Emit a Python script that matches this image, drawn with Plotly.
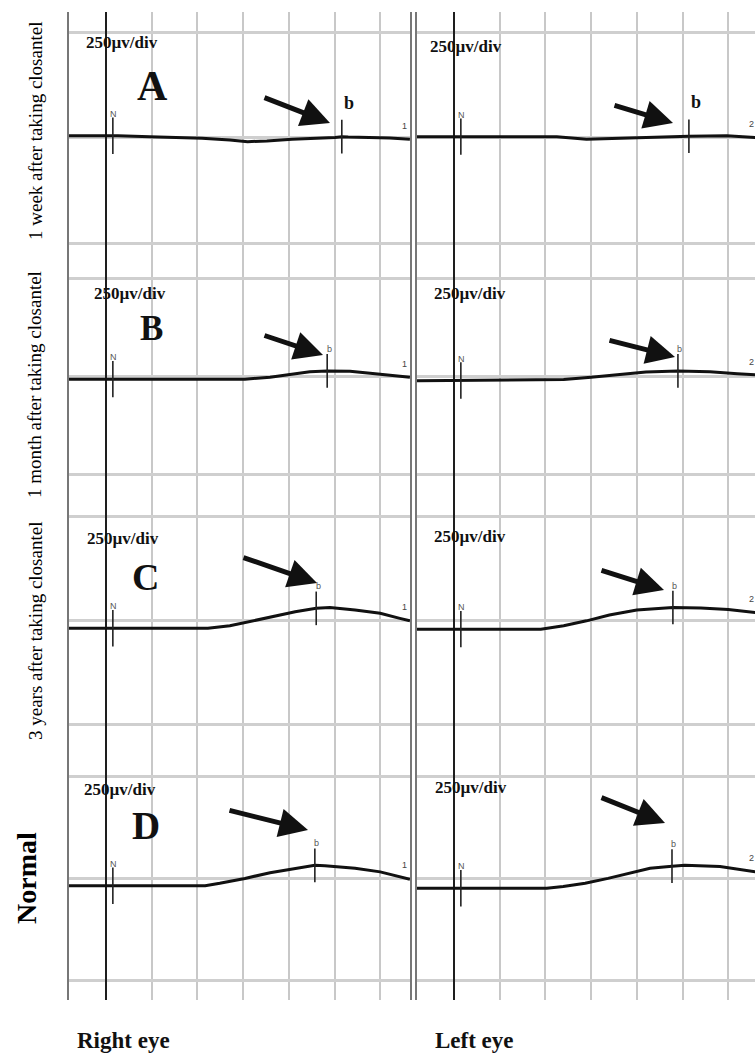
import numpy as np
import plotly.graph_objects as go

# ---------------- DATA (time in divisions, amplitude in microvolts) ----------------
row_labels = ["1 week after taking closantel", "1 month after taking closantel",
              "3 years after taking closantel", "Normal"]
panel_letters = ["A", "B", "C", "D"]
column_labels = ["Right eye", "Left eye"]
scale_label = "250\u00b5v/div"

# Right eye (left column)
time_A_right = [-0.81, 0.26, 0.96, 2.1, 2.71, 3.1, 3.52, 4.07, 5.01, 5.16, 5.3, 6.21, 6.65]
amp_A_right = [4, 4, 2, -2, -6, -10, -8, -4, 0, 2, 1, -1, -4]
time_B_right = [-0.81, 3.04, 3.59, 4.03, 4.46, 4.84, 5.34, 5.78, 6.32, 6.65]
amp_B_right = [-8, -8, -3, 5, 11, 13, 12, 7, 0, -3]
time_C_right = [-0.81, 2.23, 2.71, 3.15, 3.7, 4.14, 4.6, 4.9, 5.45, 6.0, 6.43, 6.65]
amp_C_right = [-20, -20, -14, -4, 10, 20, 28, 30, 24, 16, 4, -2]
time_D_right = [-0.81, 2.17, 2.49, 3.04, 3.59, 4.14, 4.57, 4.79, 5.45, 6.0, 6.43, 6.65]
amp_D_right = [-19, -19, -13, -1, 13, 24, 31, 30, 24, 15, 3, -3]

# Left eye (right column)
time_A_left = [-0.81, 2.25, 2.9, 3.5, 4.4, 5.14, 5.97, 6.3, 6.59]
amp_A_left = [2, 2, -4, -2, 0, 3, 4, 1, 0]
time_B_left = [-0.81, 1.0, 2.4, 3.0, 3.6, 4.2, 4.9, 5.6, 6.2, 6.59]
amp_B_left = [-12, -11, -9, -3, 4, 10, 13, 11, 6, 3]
time_C_left = [-0.81, 1.9, 2.4, 2.9, 3.4, 4.0, 4.79, 5.4, 6.0, 6.59]
amp_C_left = [-22, -22, -14, -2, 12, 24, 30, 29, 25, 18]
time_D_left = [-0.81, 2.03, 2.39, 2.87, 3.37, 3.85, 4.29, 4.77, 5.05, 5.82, 6.26, 6.59]
amp_D_left = [-25, -25, -21, -13, -1, 13, 24, 29, 31, 28, 21, 15]

n_time = 0.15
b_time_right_eye = [5.16, 4.84, 4.6, 4.57]
b_time_left_eye = [5.14, 4.9, 4.79, 4.77]
end_time_right_eye = 6.54
end_time_left_eye = 6.52
end_marks = ["1", "2"]

times = [[time_A_right, time_A_left], [time_B_right, time_B_left],
         [time_C_right, time_C_left], [time_D_right, time_D_left]]
amps = [[amp_A_right, amp_A_left], [amp_B_right, amp_B_left],
        [amp_C_right, amp_C_left], [amp_D_right, amp_D_left]]
b_times = [b_time_right_eye, b_time_left_eye]
end_times = [end_time_right_eye, end_time_left_eye]

# ---------------- LAYOUT CONSTANTS (pixels) ----------------
W, H = 755, 1057
def fx(px):
    return px / W
def fy(py):
    return 1 - py / H

ROW_BOUNDS = [(12, 260), (260, 495), (495, 750), (750, 1000)]
ROW_GRID = [(32, 243), (278, 474), (516, 724), (776, 980)]
COL_BOUNDS = [(69, 410), (417, 755)]
COL_ZERO = [106, 454]
PX_PER_DIV = 45.7
UV_PER_DIV = 250

SERIF = "Liberation Serif, Times New Roman, serif"
SMALL = "Liberation Sans, Arial, sans-serif"

fig = go.Figure()
layout = dict(width=W, height=H, margin=dict(l=0, r=0, t=0, b=0),
              paper_bgcolor="white", plot_bgcolor="white", showlegend=False)
annotations = []

for r in range(4):
    rt, rb = ROW_BOUNDS[r]
    gt, gb = ROW_GRID[r]
    s = (gb - gt) / (2 * UV_PER_DIV)
    y_top = UV_PER_DIV + (gt - rt) / s
    y_bot = -UV_PER_DIV - (rb - gb) / s
    for c in range(2):
        k = r * 2 + c + 1
        c0, c1 = COL_BOUNDS[c]
        z = COL_ZERO[c]
        xr = [(c0 - z) / PX_PER_DIV, (c1 - z) / PX_PER_DIV]
        xn, yn = ("x" if k == 1 else f"x{k}"), ("y" if k == 1 else f"y{k}")
        layout["xaxis" if k == 1 else f"xaxis{k}"] = dict(
            domain=[fx(c0), min(fx(c1), 1.0)], range=xr, anchor=yn,
            tick0=0, dtick=1, showgrid=True, gridcolor="#c8c8c8", gridwidth=1.8,
            zeroline=True, zerolinecolor="#1e1e1e", zerolinewidth=1.8,
            showticklabels=False, ticks="", showline=False, fixedrange=True)
        layout["yaxis" if k == 1 else f"yaxis{k}"] = dict(
            domain=[fy(rb), fy(rt)], range=[y_bot, y_top], anchor=xn,
            tick0=0, dtick=UV_PER_DIV, showgrid=True, gridcolor="#cfcfcf", gridwidth=2.8,
            zeroline=False, showticklabels=False, ticks="",
            showline=True, linecolor="#777777", linewidth=1.8,
            mirror=(c == 0), fixedrange=True)

        t = times[r][c]
        a = amps[r][c]
        fig.add_trace(go.Scatter(x=t, y=a, xaxis=xn, yaxis=yn, mode="lines",
                                 line=dict(color="#111111", width=3),
                                 hoverinfo="skip"))
        bt = b_times[c][r]
        n_val = float(np.interp(n_time, t, a))
        b_val = float(np.interp(bt, t, a))
        fig.add_trace(go.Scatter(x=[n_time], y=[n_val], xaxis=xn, yaxis=yn, mode="markers",
                                 marker=dict(symbol="line-ns", size=26,
                                             line=dict(color="#222222", width=1.6)),
                                 hoverinfo="skip"))
        fig.add_trace(go.Scatter(x=[bt], y=[b_val], xaxis=xn, yaxis=yn, mode="markers",
                                 marker=dict(symbol="line-ns", size=24,
                                             line=dict(color="#222222", width=1.6)),
                                 hoverinfo="skip"))
        annotations.append(dict(x=n_time, y=n_val, xref=xn, yref=yn, text="N",
                                showarrow=False, yshift=22, xshift=1,
                                font=dict(family=SMALL, size=9, color="#555555")))
        if r == 0:
            annotations.append(dict(x=bt, y=b_val, xref=xn, yref=yn, text="<b>b</b>",
                                    showarrow=False, yshift=34, xshift=7,
                                    font=dict(family=SERIF, size=18, color="#111111")))
        else:
            annotations.append(dict(x=bt, y=b_val, xref=xn, yref=yn, text="b",
                                    showarrow=False, yshift=22, xshift=2,
                                    font=dict(family=SMALL, size=9, color="#555555")))
        et = end_times[c]
        e_val = float(np.interp(et, t, a))
        annotations.append(dict(x=et, y=e_val, xref=xn, yref=yn, text=end_marks[c],
                                showarrow=False, yshift=13,
                                font=dict(family=SMALL, size=9, color="#444444")))

# "250µv/div" labels (pixel centres)
SCALE_POS = [[(122, 43), (466, 47)], [(130, 293), (470, 293)],
             [(123, 538), (470, 536)], [(120, 789), (471, 787)]]
for r in range(4):
    for c in range(2):
        x, y = SCALE_POS[r][c]
        annotations.append(dict(x=fx(x), y=fy(y), xref="paper", yref="paper",
                                text="<b>" + scale_label + "</b>", showarrow=False,
                                xanchor="center", yanchor="middle",
                                font=dict(family=SERIF, size=17, color="#111111")))

# Panel letters
LETTER_POS = [(152, 86, 42), (151, 328, 35), (145, 577, 38), (146, 825, 39)]
for (x, y, sz), L in zip(LETTER_POS, panel_letters):
    annotations.append(dict(x=fx(x), y=fy(y), xref="paper", yref="paper",
                            text="<b>" + L + "</b>", showarrow=False,
                            xanchor="center", yanchor="middle",
                            font=dict(family=SERIF, size=sz, color="#111111")))

# Row labels (rotated)
ROW_LABEL_POS = [(35, 131, 19, False), (35, 385, 19, False), (35, 631, 19, False), (26, 878, 28, True)]
for (x, y, sz, bold), txt in zip(ROW_LABEL_POS, row_labels):
    annotations.append(dict(x=fx(x), y=fy(y), xref="paper", yref="paper",
                            text=("<b>" + txt + "</b>") if bold else txt,
                            showarrow=False, textangle=-90,
                            xanchor="center", yanchor="middle",
                            font=dict(family=SERIF, size=sz, color="#000000")))

# Column labels
COL_LABEL_POS = [(124, 1040), (474, 1040)]
for (x, y), txt in zip(COL_LABEL_POS, column_labels):
    annotations.append(dict(x=fx(x), y=fy(y), xref="paper", yref="paper",
                            text="<b>" + txt + "</b>", showarrow=False,
                            xanchor="center", yanchor="middle",
                            font=dict(family=SERIF, size=23, color="#111111")))

# Arrows: (tip_x, tip_y, tail_x, tail_y) in pixels
ARROWS = [(330, 123, 263, 97), (673, 123, 613, 105),
          (323, 355, 263, 335), (675, 357, 608, 340),
          (317, 583, 242, 557), (664, 590, 600, 570),
          (308, 830, 228, 810), (665, 823, 600, 797)]
for tx, ty, sx, sy in ARROWS:
    annotations.append(dict(x=fx(tx), y=fy(ty), xref="paper", yref="paper",
                            ax=sx - tx, ay=sy - ty, text="", showarrow=True,
                            arrowhead=2, arrowsize=1.15, arrowwidth=5,
                            arrowcolor="#111111", standoff=0))

layout["annotations"] = annotations
fig.update_layout(**layout)
fig.write_html("out.html")
